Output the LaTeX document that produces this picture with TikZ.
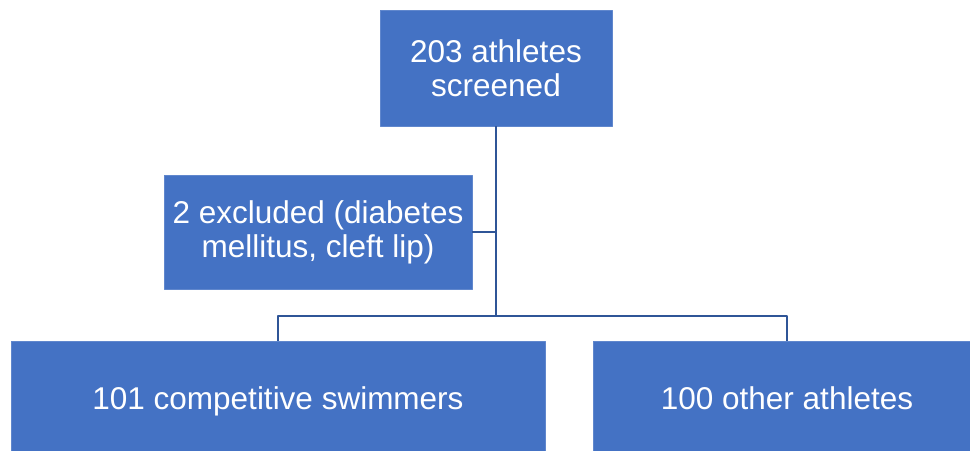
\documentclass[tikz,border=0pt]{standalone}
\usepackage{fontspec}
\setmainfont{Liberation Sans}
\definecolor{boxblue}{HTML}{4472C4}
\definecolor{lineblue}{HTML}{2F5597}
\begin{document}
\begin{tikzpicture}[x=0.025cm,y=-0.025cm,line join=round,every node/.style={font=\fontsize{22.4}{24}\selectfont},box/.style={fill=boxblue,draw=boxblue!85!white,line width=0.6pt,text=white,align=center,inner sep=0pt},group/.style={box,minimum height=3.15cm,text height=0.716em,text depth=0pt},link/.style={draw=lineblue,line width=1.4pt}]
	\clip (0,0) rectangle (970,450);
	\fill[white] (0,0) rectangle (970,450);
	\node[box,minimum width=5.8cm,minimum height=2.9cm] (screened) at (496,68) {203 athletes\\screened};
	\node[box,minimum width=7.7cm,minimum height=2.85cm] (excluded) at (318,232) {2 excluded (diabetes\\mellitus, cleft lip)};
	\node[group,minimum width=13.35cm] (swimmers) at (278,404) {101 competitive swimmers};
	\node[group,minimum width=9.7cm] (others) at (787,404) {100 other athletes};
	\coordinate (branch) at (496,232);
	\coordinate (split) at (496,316);
	\draw[link] (screened.south) -- (split);
	\draw[link] (excluded.east) -- (branch);
	\draw[link] (swimmers.north) |- (split) -| (others.north);
\end{tikzpicture}
\end{document}
